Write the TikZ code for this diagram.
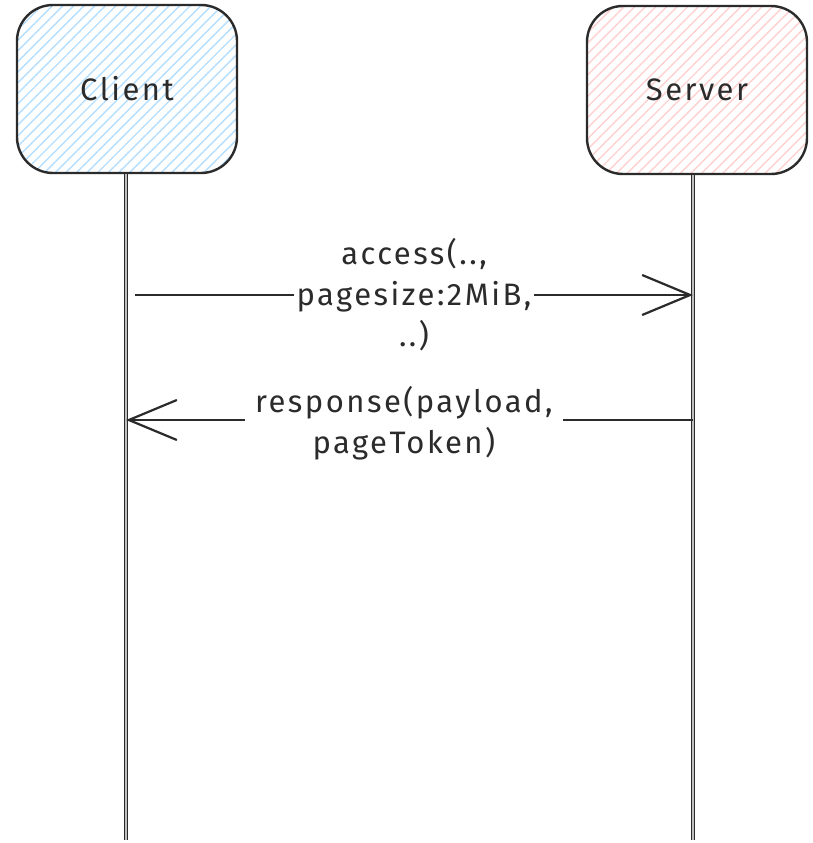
\documentclass[tikz,border=0pt]{standalone}
\usepackage{fontspec}
\setmainfont{Fira Sans}[LetterSpace=8]
\usetikzlibrary{arrows.meta,patterns.meta}
\definecolor{inkgray}{HTML}{2B2B2B}
\definecolor{clienthatch}{HTML}{B4DEFF}
\definecolor{serverhatch}{HTML}{FFD0D0}
\tikzset{
  actor/.style={draw=inkgray, line width=2.4pt, rounded corners=36pt,
    minimum width=220pt, minimum height=168pt,
    font=\fontsize{31}{34}\selectfont, text=inkgray},
  clientfill/.style={pattern={Lines[angle=45,distance=7.5pt,line width=1.4pt]}, pattern color=clienthatch},
  serverfill/.style={pattern={Lines[angle=45,distance=7.5pt,line width=1.4pt]}, pattern color=serverhatch},
  lifeline/.style={draw=inkgray, line width=1.1pt, double=white!75!black, double distance=1.1pt},
  msg/.style={draw=inkgray, line width=2.2pt, -{Straight Barb[length=48pt,width=40pt,line width=2.2pt]}},
  msglabel/.style={fill=white, align=center, text=inkgray,
    font=\fontsize{31}{41}\selectfont}
}
\begin{document}
\begin{tikzpicture}[x=1pt,y=-1pt]
  \useasboundingbox (0,0) rectangle (813,843);
  % participants
  \node[actor, clientfill] (client) at (127,89) {Client};
  \node[actor, serverfill] (server) at (697,90) {Server};
  % lifeline ends
  \coordinate (clientend) at (126,840);
  \coordinate (serverend) at (693,840);
  \coordinate (servertop) at (serverend |- server.south);
  \draw[lifeline] (clientend |- client.south) -- (clientend);
  \draw[lifeline] (servertop) -- (serverend);
  % request
  \coordinate (reqfrom) at (135,295);
  \coordinate (reqto) at (serverend |- reqfrom);
  \draw[msg] (reqfrom) -- (reqto)
    node[msglabel, midway, inner sep=3pt] {access(..,\\pagesize:2MiB,\\..)};
  % response
  \coordinate (respfrom) at (servertop |- 0,420);
  \coordinate (respto) at (clientend |- respfrom);
  \draw[msg] (respfrom) -- (respto)
    node[msglabel, pos=0.51, inner xsep=10pt, inner ysep=2pt, yshift=-3pt] {response(payload,\\pageToken)};
\end{tikzpicture}
\end{document}
